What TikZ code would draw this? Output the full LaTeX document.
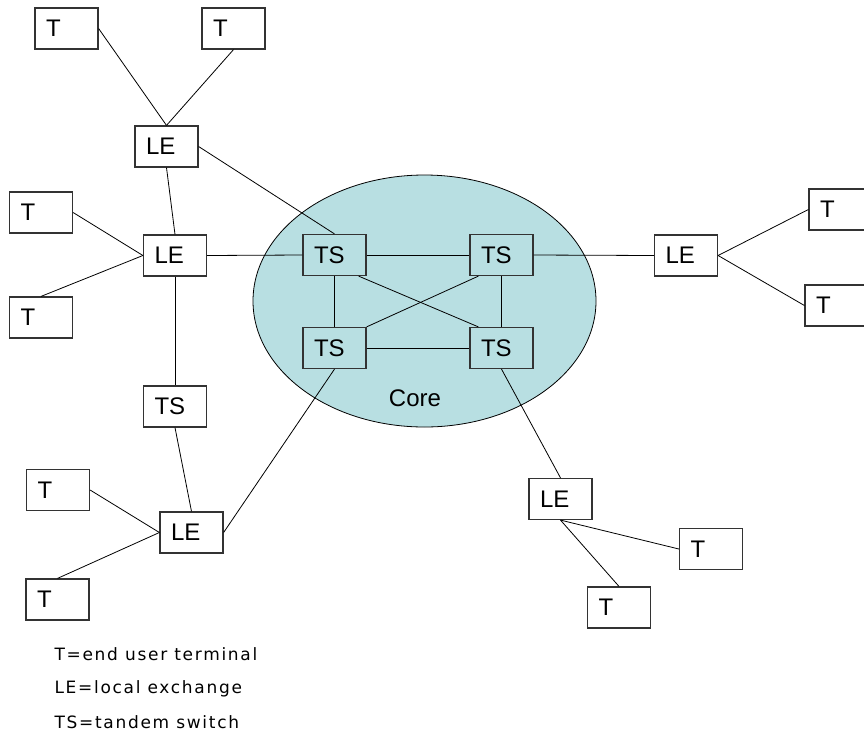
\documentclass[tikz,border=0pt]{standalone}
\usepackage{fontspec}
\setmainfont{Liberation Sans}
\newfontfamily\legendfont[LetterSpace=10]{DejaVu Sans}
\usepackage{tikz}
\usetikzlibrary{calc}
\definecolor{corefill}{RGB}{184,223,226}

\begin{document}
\begin{tikzpicture}[x=1pt, y=-1pt,
    every node/.style={font=\fontsize{24}{28}\selectfont},
    unit/.style={draw=black!80, line width=1.2pt, fill=white, rectangle,
        minimum width=63pt, minimum height=41pt, inner xsep=11pt,
        text width=41pt, align=left},
    link/.style={line width=0.8pt}]
    \useasboundingbox (0,0) rectangle (864,734);

    % Core network
    \fill[corefill] (424.5,301) ellipse [x radius=171.5, y radius=126];
    \draw[line width=0.8pt] (424.5,301) ellipse [x radius=171.5, y radius=126];
    \node (core) at (415,398) {Core};

    % Tandem switches
    \node[unit, fill=corefill] (ts1) at (334.5,255) {TS};
    \node[unit, fill=corefill] (ts2) at (501.5,255) {TS};
    \node[unit, fill=corefill] (ts3) at (334.5,348) {TS};
    \node[unit, fill=corefill] (ts4) at (501.5,348) {TS};
    \node[unit] (ts5) at (175,406.5) {TS};

    % Local exchanges
    \node[unit] (le1) at (166.5,146.5) {LE};
    \node[unit] (le2) at (175,255.5) {LE};
    \node[unit] (le3) at (191.5,532.5) {LE};
    \node[unit] (le4) at (560.5,499) {LE};
    \node[unit] (le5) at (686,255.5) {LE};

    % Terminals
    \node[unit] (t1) at (66.5,28.5) {T};
    \node[unit] (t2) at (233.5,28.5) {T};
    \node[unit] (t3) at (41,212.5) {T};
    \node[unit] (t4) at (41,317.5) {T};
    \node[unit] (t5) at (58,490) {T};
    \node[unit] (t6) at (57.5,599.5) {T};
    \node[unit] (t7) at (840.5,209.5) {T};
    \node[unit] (t8) at (836.5,305.5) {T};
    \node[unit] (t9) at (711,549) {T};
    \node[unit] (t10) at (619,607.5) {T};

    % Links
    \foreach \a/\b in {t1.east/le1.north, t2.south/le1.north, le1.east/ts1.north,
        le1.south/le2.north, t3.east/le2.west, t4.north/le2.west, le2.east/ts1.west,
        le2.south/ts5.north, ts5.south/le3.north, t5.east/le3.west, t6.north/le3.west,
        le3.east/ts3.south, ts1.east/ts2.west, ts1.south/ts3.north, ts2.south/ts4.north,
        ts3.east/ts4.west, ts2.east/le5.west, le5.east/t7.west, le5.east/t8.west,
        ts4.south/le4.north, le4.south/t9.west, le4.south/t10.north} {
        \draw[link] (\a) -- (\b);
    }
    \draw[link] ([xshift=-8pt]ts1.south east) -- ([xshift=9pt]ts4.north west);
    \draw[link] ([xshift=9pt]ts2.south west) -- (ts3.north east);

    % Legend
    \node[anchor=west, font=\legendfont\fontsize{17}{20}\selectfont] (key1) at (51,654) {T=end user terminal};
    \node[anchor=west, font=\legendfont\fontsize{17}{20}\selectfont] (key2) at (51,689) {LE=local exchange};
    \node[anchor=west, font=\legendfont\fontsize{17}{20}\selectfont] (key3) at (51,722) {TS=tandem switch};
\end{tikzpicture}
\end{document}
